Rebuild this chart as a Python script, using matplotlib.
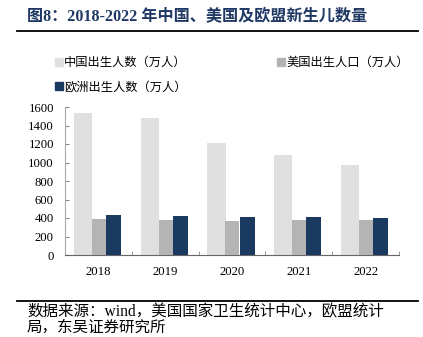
import numpy as np
import matplotlib.pyplot as plt
from matplotlib.lines import Line2D

# data
years = ['2018', '2019', '2020', '2021', '2022']
china = [1540, 1480, 1215, 1080, 970]
usa = [385, 380, 368, 374, 374]
eu = [432, 423, 412, 416, 400]

labels = ['中国出生人数（万人）', '美国出生人口（万人）', '欧洲出生人数（万人）']
title = '图8：2018-2022 年中国、美国及欧盟新生儿数量'
source = '数据来源：wind，美国国家卫生统计中心，欧盟统计\n局，东吴证券研究所'

c_china = '#e0e0e0'
c_usa = '#b4b4b4'
c_eu = '#1b3a5f'
navy = '#1f3864'
fam = ['Liberation Serif', 'Noto Sans CJK SC', 'DejaVu Sans']
plt.rcParams['font.family'] = fam

fig = plt.figure(figsize=(4.23, 3.37), dpi=100)
ax = fig.add_axes([65 / 423, 1 - 255 / 337, 334 / 423, 148 / 337])

x = np.arange(len(years))
b1 = ax.bar(x - 0.232, china, width=0.27, color=c_china, zorder=2)
b2 = ax.bar(x + 0.007, usa, width=0.21, color=c_usa, zorder=3)
b3 = ax.bar(x + 0.225, eu, width=0.225, color=c_eu, zorder=3)

ax.set_xlim(-0.5, 4.5)
ax.set_ylim(0, 1600)
ax.set_yticks(np.arange(0, 1601, 200))
ax.set_xticks(x)
ax.set_xticklabels(years)
ax.set_xticks(np.arange(-0.5, 4.6, 1), minor=True)
ax.tick_params(axis='x', which='major', length=0, pad=8, labelsize=9.2)
ax.tick_params(axis='x', which='minor', direction='in', length=3, color='#888888')
ax.tick_params(axis='y', direction='in', length=3, color='#888888', labelsize=9.2, pad=8)
for s in ['top', 'right']:
    ax.spines[s].set_visible(False)
ax.spines['left'].set_color('#aaaaaa')
ax.spines['bottom'].set_color('#666666')

# legend: three items, column-major order
sq = lambda c: Line2D([], [], marker='s', color='none', markerfacecolor=c,
                      markeredgecolor=c, markersize=6)
fig.legend([sq(c_china), sq(c_eu), sq(c_usa)], [labels[0], labels[2], labels[1]],
           ncol=2, loc='upper left', bbox_to_anchor=(55 / 423, 1 - 57 / 337),
           frameon=False, fontsize=8.8, handlelength=0.6, handletextpad=0.15,
           columnspacing=7.4, labelspacing=1.0, borderaxespad=0, borderpad=0)

fig.text(27 / 423, 1 - 16 / 337, title, fontsize=11.6, fontweight='bold',
         color=navy, va='center', ha='left')
fig.add_artist(Line2D([17 / 423, 418 / 423], [1 - 31 / 337, 1 - 31 / 337],
                      color='black', lw=1.3))
fig.add_artist(Line2D([17 / 423, 418 / 423], [1 - 301 / 337, 1 - 301 / 337],
                      color='black', lw=1.3))
fig.text(27 / 423, 1 - 304 / 337, source, fontsize=11.2, va='top', ha='left',
         linespacing=1.0)

fig.savefig('out.png', dpi=100)
